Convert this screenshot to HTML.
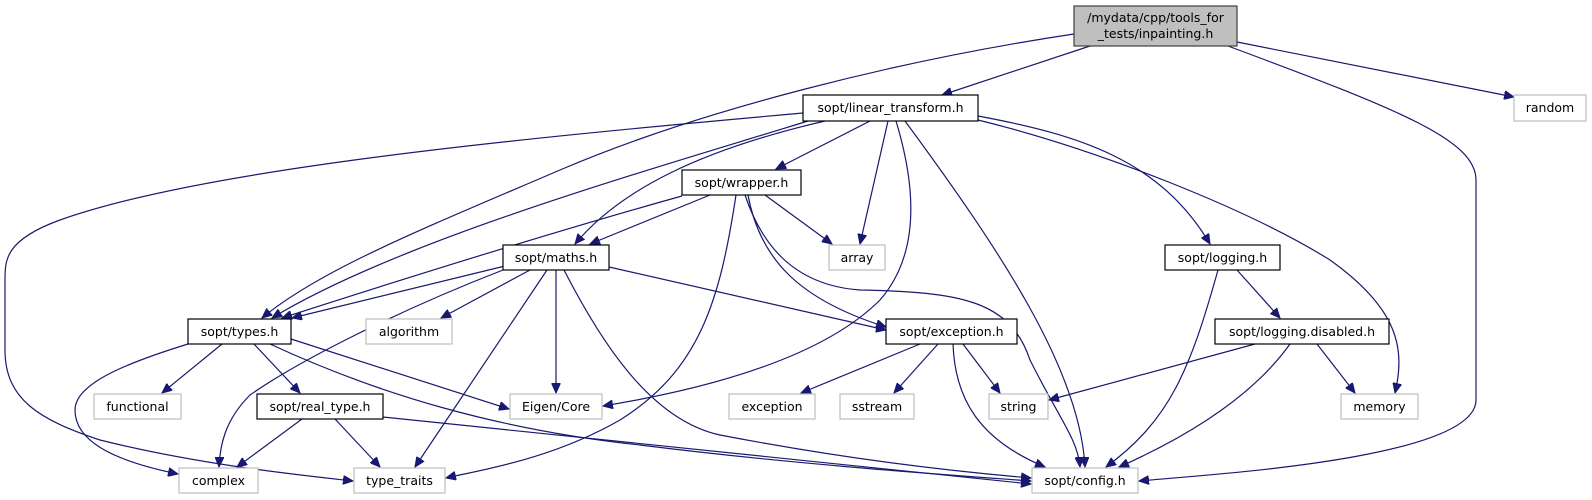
<!DOCTYPE html>
<html><head><meta charset="utf-8"><style>
html,body{margin:0;padding:0;background:#fff;}
svg{display:block;}
text{font-family:"DejaVu Sans","Liberation Sans",sans-serif;font-size:12.5px;fill:#000;}
</style></head><body>
<svg width="1592" height="500" viewBox="0 0 1592 500" xmlns="http://www.w3.org/2000/svg">
<defs>
<marker id="a" markerWidth="11" markerHeight="9" refX="10" refY="4.5" orient="auto" markerUnits="userSpaceOnUse">
<path d="M0,0 L10,4.5 L0,9 z" fill="#191970" stroke="#191970"/>
</marker>
</defs>
<g fill="none" stroke="#191970" stroke-width="1.2" marker-end="url(#a)">
<path d="M1074,34 C900,60 700,110 560,170 C420,230 320,270 262,318"/>
<path d="M1090,46 L942,95"/>
<path d="M1237,42 L1514,97"/>
<path d="M1228,46 C1400,110 1476,140 1476,180 L1476,400 C1476,460 1200,475 1139,481"/>
<path d="M803,113 C500,140 200,170 60,220 C5,240 5,260 5,280 L5,350 C5,400 40,420 100,440 C200,465 300,475 353,481"/>
<path d="M808,121 C650,170 400,240 272,318"/>
<path d="M825,121 C700,150 620,190 575,244"/>
<path d="M870,121 L776,169"/>
<path d="M888,121 L860,244"/>
<path d="M896,121 C920,200 915,260 880,300 C820,360 700,390 603,406"/>
<path d="M905,121 C1000,250 1080,370 1085,467"/>
<path d="M978,116 C1080,135 1160,160 1210,244"/>
<path d="M978,120 C1100,150 1250,210 1330,260 C1400,310 1405,350 1395,393"/>
<path d="M682,196 C560,230 400,280 282,318"/>
<path d="M710,195 L590,244"/>
<path d="M736,195 C720,300 700,370 620,420 C550,460 480,470 446,478"/>
<path d="M765,195 L832,244"/>
<path d="M748,195 C760,260 800,300 886,327"/>
<path d="M745,195 C760,240 790,285 860,290 C960,292 1010,300 1030,360 C1060,420 1078,440 1080,467"/>
<path d="M505,266 L292,318"/>
<path d="M503,270 C400,310 300,360 250,395 C225,420 220,445 219,467"/>
<path d="M530,270 L441,318"/>
<path d="M547,270 L415,467"/>
<path d="M556,270 L556,393"/>
<path d="M564,270 C600,340 650,420 720,435 C850,460 960,472 1031,478"/>
<path d="M609,267 L886,330"/>
<path d="M188,344 C120,365 75,385 75,410 C75,440 110,460 178,474"/>
<path d="M222,344 L162,393"/>
<path d="M254,344 L300,393"/>
<path d="M291,339 L509,409"/>
<path d="M270,344 C380,395 500,430 640,445 C800,465 950,475 1031,481"/>
<path d="M302,419 L237,467"/>
<path d="M335,419 L380,467"/>
<path d="M383,417 L1031,484"/>
<path d="M920,344 L801,393"/>
<path d="M938,344 L894,393"/>
<path d="M963,344 L1000,393"/>
<path d="M953,344 C955,400 980,440 1045,467"/>
<path d="M1218,270 C1190,370 1170,420 1106,467"/>
<path d="M1237,270 L1280,318"/>
<path d="M1255,344 L1049,400"/>
<path d="M1290,344 C1250,400 1180,440 1119,467"/>
<path d="M1317,344 L1355,393"/>
</g>
<g stroke-width="1.2">
<rect x="1074" y="6" width="163" height="40" fill="#bfbfbf" stroke="#404040"/>
<rect x="803" y="95" width="175" height="26" fill="#fff" stroke="#000"/>
<rect x="1514" y="95" width="72" height="26" fill="#fff" stroke="#bfbfbf"/>
<rect x="682" y="170" width="119" height="25" fill="#fff" stroke="#000"/>
<rect x="829" y="245" width="56" height="25" fill="#fff" stroke="#bfbfbf"/>
<rect x="1165" y="245" width="115" height="25" fill="#fff" stroke="#000"/>
<rect x="503" y="245" width="106" height="25" fill="#fff" stroke="#000"/>
<rect x="188" y="319" width="103" height="25" fill="#fff" stroke="#000"/>
<rect x="366" y="319" width="86" height="25" fill="#fff" stroke="#bfbfbf"/>
<rect x="886" y="319" width="131" height="25" fill="#fff" stroke="#000"/>
<rect x="1215" y="319" width="174" height="25" fill="#fff" stroke="#000"/>
<rect x="94" y="394" width="87" height="25" fill="#fff" stroke="#bfbfbf"/>
<rect x="257" y="394" width="126" height="25" fill="#fff" stroke="#000"/>
<rect x="510" y="394" width="92" height="25" fill="#fff" stroke="#bfbfbf"/>
<rect x="729" y="394" width="86" height="25" fill="#fff" stroke="#bfbfbf"/>
<rect x="840" y="394" width="74" height="25" fill="#fff" stroke="#bfbfbf"/>
<rect x="989" y="394" width="59" height="25" fill="#fff" stroke="#bfbfbf"/>
<rect x="1341" y="394" width="77" height="25" fill="#fff" stroke="#bfbfbf"/>
<rect x="179" y="468" width="79" height="25" fill="#fff" stroke="#bfbfbf"/>
<rect x="354" y="468" width="91" height="25" fill="#fff" stroke="#bfbfbf"/>
<rect x="1032" y="468" width="106" height="25" fill="#fff" stroke="#bfbfbf"/>
</g>
<g text-anchor="middle">
<text x="1155.5" y="22">/mydata/cpp/tools_for</text>
<text x="1155.5" y="38">_tests/inpainting.h</text>
<text x="890.5" y="112">sopt/linear_transform.h</text>
<text x="1550" y="112">random</text>
<text x="741.5" y="187">sopt/wrapper.h</text>
<text x="857" y="262">array</text>
<text x="1222.5" y="262">sopt/logging.h</text>
<text x="556" y="262">sopt/maths.h</text>
<text x="239.5" y="336">sopt/types.h</text>
<text x="409" y="336">algorithm</text>
<text x="951.5" y="336">sopt/exception.h</text>
<text x="1302" y="336">sopt/logging.disabled.h</text>
<text x="137.5" y="411">functional</text>
<text x="320" y="411">sopt/real_type.h</text>
<text x="556" y="411">Eigen/Core</text>
<text x="772" y="411">exception</text>
<text x="877" y="411">sstream</text>
<text x="1018.5" y="411">string</text>
<text x="1379.5" y="411">memory</text>
<text x="218.5" y="485">complex</text>
<text x="399.5" y="485">type_traits</text>
<text x="1085" y="485">sopt/config.h</text>
</g>
</svg>
</body></html>
